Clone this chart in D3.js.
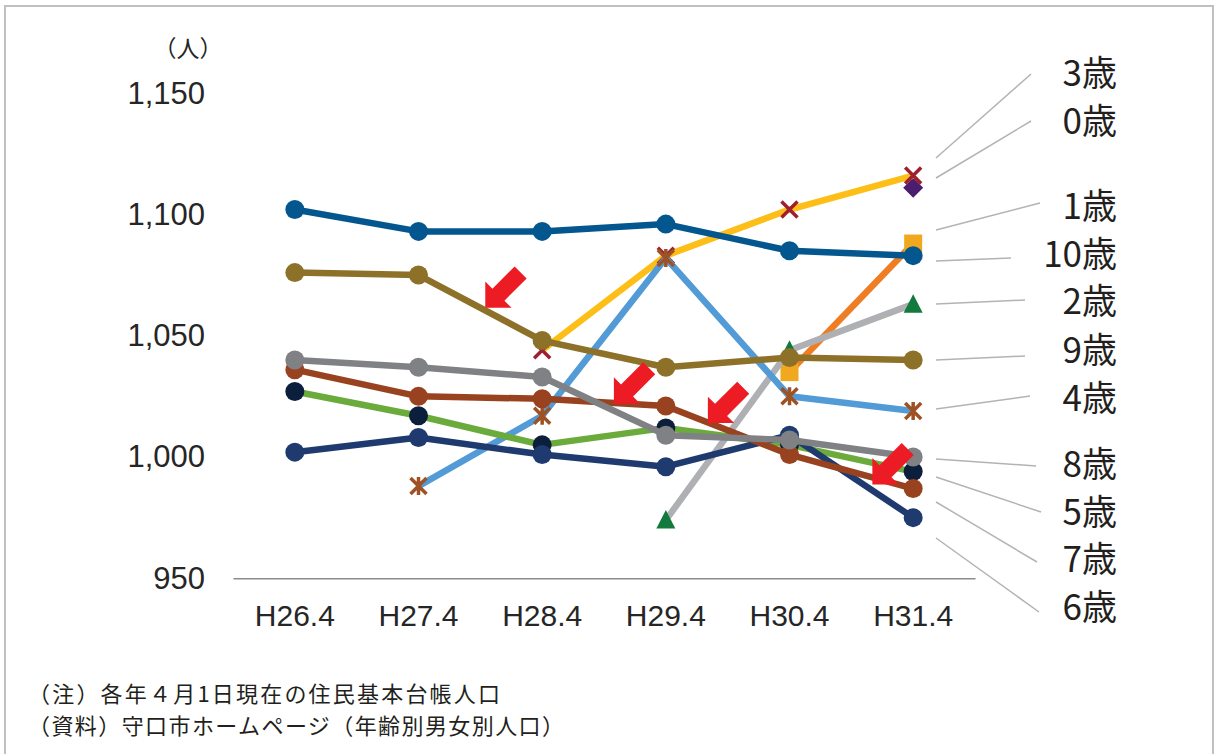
<!DOCTYPE html>
<html>
<head>
<meta charset="utf-8">
<script src="https://cdn.jsdelivr.net/npm/d3@7"></script>
<style>
	body { margin: 0; background: #fff; }
	svg { display: block; }
</style>
</head>
<body>
<div id="chart"></div>
<script>
// population by age cohort (人)
var categories = ["H26.4", "H27.4", "H28.4", "H29.4", "H30.4", "H31.4"];
var yTicks = [950, 1000, 1050, 1100, 1150];

var age0  = [null, null, null, null, null, 1111];
var age1  = [null, null, null, null, 1035, 1088];
var age2  = [null, null, null, 974, 1044, 1063];
var age3  = [null, null, 1044, 1083, 1102, 1116];
var age4  = [null, 988, 1017, 1082, 1025, 1019];
var age5  = [1027, 1017, 1005, 1012, 1005, 994];
var age6  = [1002, 1008, 1001, 996, 1009, 975];
var age7  = [1036, 1025, 1024, 1021, 1001, 987];
var age8  = [1040, 1037, 1033, 1009, 1007, 1000];
var age9  = [1076, 1075, 1048, 1037, 1041, 1040];
var age10 = [1102, 1093, 1093, 1096, 1085, 1083];

var seriesNames = ["0歳", "1歳", "2歳", "3歳", "4歳", "5歳", "6歳", "7歳", "8歳", "9歳", "10歳"];

// red arrows: tip position as (category index, value)
var arrowIdx = [1.54, 2.58, 3.34, 4.67];
var arrowVal = [1061.5, 1022, 1014, 988.7];

var notes = [
	"（注）各年４月1日現在の住民基本台帳人口",
	"（資料）守口市ホームページ（年齢別男女別人口）"
];
var noteWidth = [472, 536];

var W = 1214, H = 754;

// styling per series (ascending age, later drawn on top)
var styles = [
	{line: null,      marker: "diamond",  fill: "#4b1d6e"},
	{line: "#ee7d23", marker: "square",   fill: "#f0a91e"},
	{line: "#afb0b3", marker: "triangle", fill: "#127a3c"},
	{line: "#fdbf17", marker: "cross",    fill: "#a01f2e"},
	{line: "#529bd6", marker: "star",     fill: "#9e5224"},
	{line: "#6aab3c", marker: "circle",   fill: "#0b1f3c"},
	{line: "#1e3a6e", marker: "circle",   fill: "#1e3a6e"},
	{line: "#99421f", marker: "circle",   fill: "#99421f"},
	{line: "#808184", marker: "circle",   fill: "#808184"},
	{line: "#8e7129", marker: "circle",   fill: "#8e7129"},
	{line: "#04578e", marker: "circle",   fill: "#04578e"}
];

// right side labels (order of display) and leader lines
var labelOrder = [3, 0, 1, 10, 2, 9, 4, 8, 5, 7, 6];
var labelY     = [73, 121, 206, 254, 301, 350, 398, 464, 512, 559, 607];
var leadStartY = [158, 178, 230, 261, 304, 360, 409, 459, 477, 502, 538];
var leadEndX   = [1031, 1031, 1040, 1011, 1025, 1025, 1030, 1036, 1041, 1037, 1039];
var leadEndY   = [74, 121, 203, 258, 300, 356, 396, 466, 512, 562, 612];

var allSeries = [age0, age1, age2, age3, age4, age5, age6, age7, age8, age9, age10];

var svg = d3.select("#chart").append("svg")
	.attr("width", W)
	.attr("height", H);

svg.append("rect")
	.attr("x", 0).attr("y", 0).attr("width", W).attr("height", H)
	.attr("fill", "#fff");

// frame
svg.append("rect")
	.attr("x", 5).attr("y", 6).attr("width", W - 6).attr("height", H + 20)
	.attr("fill", "none")
	.attr("stroke", "#c0c0c0")
	.attr("stroke-width", 2);

var x = d3.scaleBand()
	.domain(categories)
	.range([233, 975]);
var xc = function(c) { return x(c) + x.bandwidth() / 2; };
var xi = d3.scaleLinear()
	.domain([0, categories.length - 1])
	.range([xc(categories[0]), xc(categories[categories.length - 1])]);

var y = d3.scaleLinear()
	.domain([950, 1150])
	.range([578.3, 93.1]);

// x axis
var xAxis = svg.append("g")
	.attr("transform", "translate(0," + y(950) + ")")
	.call(d3.axisBottom(x).tickSize(0).tickPadding(26));
xAxis.select(".domain")
	.attr("stroke", "#8c8c8c")
	.attr("stroke-width", 1.5);
xAxis.selectAll("text")
	.attr("font-family", "'Liberation Sans', Arial, sans-serif")
	.attr("font-size", 30)
	.attr("fill", "#262626")
	.attr("dy", "0.71em");

// y axis (labels only)
var yAxis = svg.append("g")
	.attr("transform", "translate(219,0)")
	.call(d3.axisLeft(y).tickValues(yTicks).tickSize(0).tickPadding(14)
		.tickFormat(d3.format(",")));
yAxis.select(".domain").remove();
yAxis.selectAll("text")
	.attr("font-family", "'Liberation Sans', Arial, sans-serif")
	.attr("font-size", 31)
	.attr("fill", "#262626");

svg.append("text")
	.attr("x", 188)
	.attr("y", 57)
	.attr("text-anchor", "middle")
	.attr("font-family", "'Noto Sans CJK JP', sans-serif")
	.attr("font-size", 23)
	.attr("fill", "#262626")
	.text("（人）");

// lines
var line = d3.line()
	.defined(function(d) { return d != null; })
	.x(function(d, i) { return xc(categories[i]); })
	.y(function(d) { return y(d); });

function drawMarker(g, st, px, py) {
	if (st.marker == "circle") {
		g.append("circle").attr("cx", px).attr("cy", py).attr("r", 9.5).attr("fill", st.fill);
	} else if (st.marker == "square") {
		g.append("rect").attr("x", px - 9).attr("y", py - 9).attr("width", 18).attr("height", 18)
			.attr("fill", st.fill);
	} else if (st.marker == "diamond") {
		g.append("path").attr("d", "M0,-10L10,0L0,10L-10,0Z")
			.attr("transform", "translate(" + px + "," + py + ")").attr("fill", st.fill);
	} else if (st.marker == "triangle") {
		g.append("path").attr("d", "M0,-10L9.5,8.5L-9.5,8.5Z")
			.attr("transform", "translate(" + px + "," + py + ")").attr("fill", st.fill);
	} else if (st.marker == "cross") {
		g.append("path").attr("d", "M-8,-8L8,8M8,-8L-8,8")
			.attr("transform", "translate(" + px + "," + py + ")")
			.attr("stroke", st.fill).attr("stroke-width", 3.5).attr("fill", "none");
	} else if (st.marker == "star") {
		g.append("path").attr("d", "M-8,-8L8,8M8,-8L-8,8M0,-9L0,9")
			.attr("transform", "translate(" + px + "," + py + ")")
			.attr("stroke", st.fill).attr("stroke-width", 3.5).attr("fill", "none");
	}
}

for (var s = 0; s < allSeries.length; s++) {
	var st = styles[s];
	var g = svg.append("g").attr("class", "series");
	if (st.line) {
		g.append("path")
			.attr("d", line(allSeries[s]))
			.attr("fill", "none")
			.attr("stroke", st.line)
			.attr("stroke-width", 6.5)
			.attr("stroke-linejoin", "round");
	}
	allSeries[s].forEach(function(v, i) {
		if (v == null) return;
		drawMarker(g, st, xc(categories[i]), y(v));
	});
}

// red block arrows pointing down-left
var arrowPath = "M0,0L-18.6,-18.6L-18.6,-8.5L-50,-8.5L-50,8.5L-18.6,8.5L-18.6,18.6Z";
svg.selectAll(".arrow")
	.data(arrowIdx)
	.enter().append("path")
	.attr("class", "arrow")
	.attr("d", arrowPath)
	.attr("fill", "#ed1c24")
	.attr("transform", function(d, i) {
		return "translate(" + xi(d) + "," + y(arrowVal[i]) + ") rotate(135)";
	});

// leader lines and labels
var lab = svg.append("g");
labelOrder.forEach(function(s, k) {
	lab.append("line")
		.attr("x1", 936).attr("y1", leadStartY[k])
		.attr("x2", leadEndX[k]).attr("y2", leadEndY[k])
		.attr("stroke", "#b3b3b3")
		.attr("stroke-width", 1.5);
	lab.append("text")
		.attr("x", 1117)
		.attr("y", labelY[k])
		.attr("dy", "0.36em")
		.attr("text-anchor", "end")
		.attr("font-family", "'Noto Sans CJK JP', sans-serif")
		.attr("font-size", 35)
		.attr("fill", "#231f20")
		.text(seriesNames[s]);
});

// notes
svg.selectAll(".note")
	.data(notes)
	.enter().append("text")
	.attr("class", "note")
	.attr("x", 28)
	.attr("y", function(d, i) { return 702 + i * 32; })
	.attr("textLength", function(d, i) { return noteWidth[i]; })
	.attr("lengthAdjust", "spacing")
	.attr("font-family", "'Noto Sans CJK JP', sans-serif")
	.attr("font-size", 22)
	.attr("fill", "#231f20")
	.text(function(d) { return d; });
</script>
</body>
</html>
